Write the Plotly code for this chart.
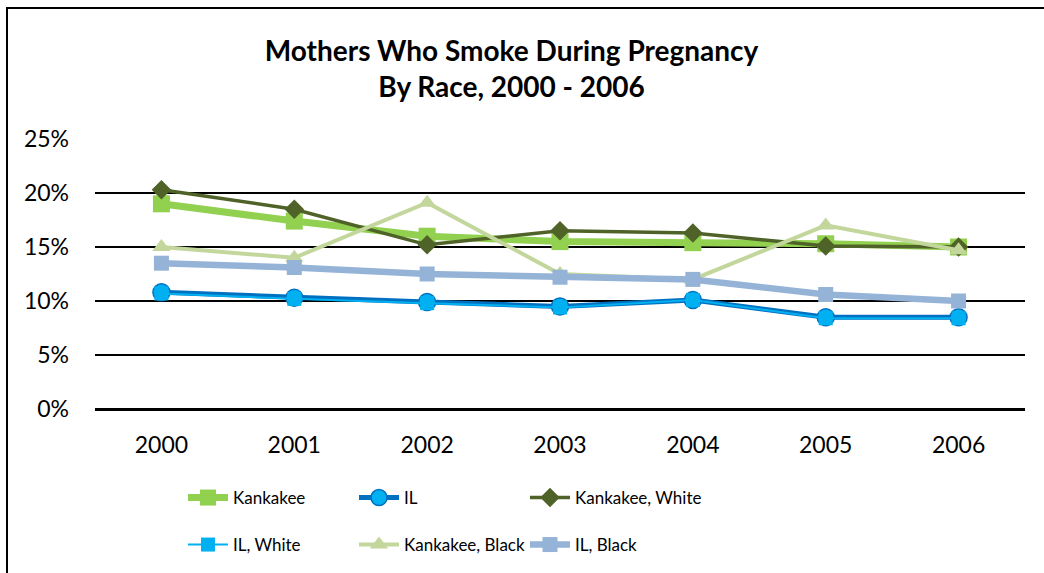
import plotly.graph_objects as go

years = ["2000", "2001", "2002", "2003", "2004", "2005", "2006"]
kankakee = [0.190, 0.174, 0.160, 0.155, 0.154, 0.153, 0.150]
il = [0.108, 0.103, 0.099, 0.095, 0.101, 0.085, 0.085]
kankakee_white = [0.203, 0.185, 0.152, 0.165, 0.163, 0.151, 0.150]
il_white = [0.107, 0.102, 0.098, 0.094, 0.101, 0.084, 0.084]
kankakee_black = [0.150, 0.140, 0.191, 0.125, 0.120, 0.170, 0.147]
il_black = [0.135, 0.131, 0.125, 0.122, 0.120, 0.106, 0.100]
y_ticks = [0, 0.05, 0.10, 0.15, 0.20, 0.25]
y_ticklabels = ["0%", "5%", "10%", "15%", "20%", "25%"]

FONT = "Lato"
fig = go.Figure()

def add(name, ys, color, width, symbol, msize, legend, mcolor=None, mline=None):
    fig.add_trace(go.Scatter(
        x=years, y=ys, name=name, mode="lines+markers",
        line=dict(color=color, width=width),
        marker=dict(symbol=symbol, size=msize, color=mcolor or color,
                    line=dict(color=mline or (mcolor or color), width=1.5 if mline else 0)),
        legend=legend,
    ))

add("Kankakee", kankakee, "#92D050", 7, "square", 17, "legend")
add("IL", il, "#0070C0", 5, "circle", 17, "legend", mcolor="#00B0F0", mline="#0070C0")
add("Kankakee, White", kankakee_white, "#4F6228", 3.5, "diamond", 15, "legend3")
add("IL, White", il_white, "#00B0F0", 2, "square", 14, "legend2")
add("Kankakee, Black", kankakee_black, "#C3D69B", 4, "triangle-up", 16, "legend2")
add("IL, Black", il_black, "#95B3D7", 6.5, "square", 15, "legend4")

legend_common = dict(
    orientation="h", xref="container", yref="container",
    font=dict(family=FONT, size=17, color="#000000"),
    entrywidth=116, entrywidthmode="pixels",
    bgcolor="rgba(0,0,0,0)", tracegroupgap=0, itemwidth=40,
    yanchor="middle", xanchor="left",
)
legend_single = dict(legend_common)
legend_single.pop("entrywidth")
legend_single.pop("entrywidthmode")

fig.update_layout(
    width=1044, height=573,
    paper_bgcolor="white", plot_bgcolor="white",
    margin=dict(l=95, r=19, t=139, b=164),
    font=dict(family=FONT, size=23, color="#000000"),
    title=dict(
        text="<b>Mothers Who Smoke During Pregnancy<br>By Race, 2000 - 2006</b>",
        x=0.49, xanchor="center", xref="container",
        y=1 - 61 / 573, yanchor="middle", yref="container",
        font=dict(family=FONT, size=28, color="#000000"),
    ),
    xaxis=dict(
        type="category", showgrid=False, zeroline=False, showline=False,
        ticks="", ticklabelstandoff=20,
        tickfont=dict(family=FONT, size=23),
        range=[-0.5, 6.5],
    ),
    yaxis=dict(
        range=[0, 0.25], tickvals=y_ticks, ticktext=y_ticklabels,
        showgrid=True, gridcolor="#000000", gridwidth=2,
        zeroline=True, zerolinecolor="#000000", zerolinewidth=3,
        showline=False, ticks="", ticklabelstandoff=25,
        tickfont=dict(family=FONT, size=23),
    ),
    legend=dict(x=183 / 1044, y=1 - 498 / 573, **legend_common),
    legend2=dict(x=183 / 1044, y=1 - 545 / 573, **legend_common),
    legend3=dict(x=525 / 1044, y=1 - 498 / 573, **legend_single),
    legend4=dict(x=525 / 1044, y=1 - 545 / 573, **legend_single),
    showlegend=True,
)

# outer chart border
fig.add_shape(type="rect", xref="paper", yref="paper",
              x0=(7 - 95) / 930, x1=(1060 - 95) / 930,
              y0=(409 - 590) / 270, y1=(409 - 8) / 270,
              line=dict(color="#000000", width=2), fillcolor="rgba(0,0,0,0)",
              layer="below")

fig.write_html("out.html",
               config={"displayModeBar": False},
               post_script="document.body.style.margin='0';document.body.style.overflow='hidden';")
